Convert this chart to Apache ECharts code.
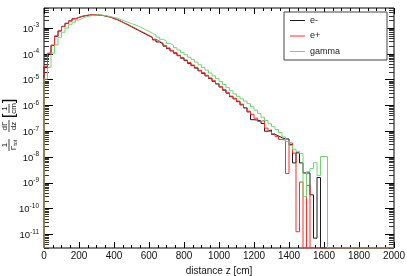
<!DOCTYPE html>
<html><head><meta charset="utf-8">
<script src="https://cdn.jsdelivr.net/npm/echarts@6/dist/echarts.min.js"></script>
<style>html,body{margin:0;padding:0;background:#fff}#c{width:407px;height:276px}</style>
</head><body><div id="c"></div>
<script>
// ---- data (histogram, 20 cm bins from 0 to 2000 cm) ----
const BIN_WIDTH = 20;
const seriesNames = ['e-', 'e+', 'gamma'];
const eMinus = [
 3.1e-5,1.0e-4,2.1e-4,4.8e-4,7.7e-4,1.15e-3,1.52e-3,1.9e-3,2.3e-3,2.6e-3,
 2.85e-3,3.05e-3,3.2e-3,3.25e-3,3.25e-3,3.15e-3,3.05e-3,2.85e-3,2.65e-3,2.35e-3,
 2.1e-3,1.82e-3,1.55e-3,1.34e-3,1.13e-3,9.6e-4,8.2e-4,6.9e-4,5.9e-4,5.0e-4,
 4.3e-4,3.5e-4,2.9e-4,2.45e-4,2.0e-4,1.6e-4,1.3e-4,1.06e-4,8.5e-5,6.8e-5,
 5.5e-5,4.3e-5,3.5e-5,2.8e-5,2.2e-5,1.75e-5,1.4e-5,1.1e-5,8.6e-6,6.8e-6,
 5.2e-6,3.9e-6,3.0e-6,2.2e-6,1.8e-6,1.4e-6,1.05e-6,8.0e-7,5.6e-7,2.8e-7,
 2.7e-7,2.5e-7,2.0e-7,1.0e-7,1.12e-7,7.6e-8,6.6e-8,5.6e-8,5.0e-8,5.0e-8,
 3.0e-8,5.9e-9,1.45e-8,5.9e-9,2.4e-9,2.4e-9,3.4e-10,7.1e-12,1.6e-9,0,
 0,0,0,0,0,0,0,0,0,0, 0,0,0,0,0,0,0,0,0,0
];
const ePlus = [
 3.3e-5,1.07e-4,2.2e-4,5.0e-4,7.9e-4,1.17e-3,1.55e-3,1.9e-3,2.3e-3,2.6e-3,
 2.9e-3,3.1e-3,3.2e-3,3.3e-3,3.3e-3,3.2e-3,3.1e-3,2.9e-3,2.7e-3,2.4e-3,
 2.15e-3,1.86e-3,1.58e-3,1.38e-3,1.17e-3,1.0e-3,8.5e-4,7.2e-4,6.2e-4,5.2e-4,
 4.5e-4,3.7e-4,3.1e-4,2.6e-4,2.1e-4,1.7e-4,1.38e-4,1.12e-4,8.9e-5,7.2e-5,
 5.8e-5,4.6e-5,3.7e-5,3.0e-5,2.3e-5,1.86e-5,1.48e-5,1.17e-5,9.1e-6,7.1e-6,
 5.4e-6,4.1e-6,3.1e-6,2.3e-6,1.9e-6,1.48e-6,1.12e-6,8.3e-7,6.0e-7,4.5e-7,
 3.2e-7,2.4e-7,2.6e-7,1.32e-7,1.0e-7,7.9e-8,6.3e-8,4.8e-8,4.5e-8,2.3e-9,
 3.5e-8,1.41e-8,1.26e-11,1.07e-9,0,7.9e-10,0,0,0,0,
 0,0,0,0,0,0,0,0,0,0, 0,0,0,0,0,0,0,0,0,0
];
const gamma = [
 1.05e-5,3.0e-5,1.07e-4,2.2e-4,4.4e-4,6.9e-4,1.0e-3,1.35e-3,1.7e-3,2.05e-3,
 2.4e-3,2.7e-3,2.95e-3,3.1e-3,3.25e-3,3.25e-3,3.15e-3,3.0e-3,2.8e-3,2.6e-3,
 2.4e-3,2.15e-3,1.9e-3,1.7e-3,1.5e-3,1.35e-3,1.17e-3,1.02e-3,8.7e-4,7.4e-4,
 6.3e-4,5.4e-4,4.5e-4,3.7e-4,3.1e-4,2.55e-4,2.15e-4,1.74e-4,1.41e-4,1.15e-4,
 9.3e-5,7.4e-5,6.0e-5,4.8e-5,3.8e-5,3.0e-5,2.35e-5,1.8e-5,1.4e-5,1.1e-5,
 8.5e-6,6.5e-6,4.9e-6,3.7e-6,2.8e-6,2.25e-6,1.8e-6,1.48e-6,1.17e-6,8.9e-7,
 6.6e-7,4.9e-7,3.5e-7,2.6e-7,1.95e-7,1.5e-7,1.17e-7,8.9e-8,6.0e-8,4.0e-8,
 2.8e-8,2.0e-8,1.66e-8,1.38e-8,2.9e-10,2.7e-9,3.6e-9,6.0e-9,1.9e-9,1.05e-8,
 1.05e-8,0,0,0,0,0,0,0,0,0, 0,0,0,0,0,0,0,0,0,0
];
const xTickValues = [0,200,400,600,800,1000,1200,1400,1600,1800,2000];
const yDecades = [-11,-10,-9,-8,-7,-6,-5,-4,-3];

// ---- axis range (log10 space) ----
const Y_MIN = -11.53, Y_MAX = -2.22;
const lg = v => (v > 0 ? Math.log10(v) : Y_MIN);

function steps(vals) {
  const pts = [[0, Y_MIN]];
  vals.forEach((v, i) => pts.push([i * BIN_WIDTH, lg(v)]));
  pts.push([vals.length * BIN_WIDTH, lg(vals[vals.length - 1])]);
  return pts;
}
const minorY = [];
for (let e = -12; e <= -3; e++) for (let k = 2; k <= 9; k++) {
  const L = Math.log10(k) + e;
  if (L > Y_MIN && L < Y_MAX) minorY.push(L);
}

const FONT = 'Liberation Sans';
const chart = echarts.init(document.getElementById('c'));
const yBase = { type: 'value', min: Y_MIN, max: Y_MAX, splitLine: { show: false },
  axisLine: { show: false } };
const xBase = { type: 'value', min: 0, max: 2000, interval: 200, splitLine: { show: false },
  axisLine: { show: false },
  axisTick: { inside: true, length: 6, lineStyle: { color: '#000' } },
  minorTick: { show: true, splitNumber: 4, length: 3, lineStyle: { color: '#000' } } };

const colors = ['#1a1a1a', '#ff2a2a', '#74d474'];
const allData = [eMinus, ePlus, gamma];
const LINE_ICON = 'path://M0,0L30,0L30,2L0,2Z';

chart.setOption({
  animation: false,
  backgroundColor: '#fff',
  grid: { left: 44, right: 13, top: 8, bottom: 28, show: true, borderColor: '#000',
    borderWidth: 1, backgroundColor: 'transparent', outerBoundsMode: 'none' },
  legend: {
    orient: 'vertical', left: 284, top: 12, padding: [3.5, 7, 3.5, 6], itemGap: 5.5,
    itemWidth: 15, itemHeight: 1.2, borderColor: '#444', borderWidth: 1, backgroundColor: '#fff',
    textStyle: { fontFamily: FONT, fontSize: 9, color: '#222', width: 70, lineHeight: 10 },
    data: seriesNames.map(n => ({ name: n, icon: LINE_ICON }))
  },
  xAxis: [
    Object.assign({}, xBase, { position: 'bottom',
      axisLabel: { fontFamily: FONT, fontSize: 10, color: '#111', margin: 3,
        customValues: xTickValues, formatter: v => String(v) },
      name: 'distance z [cm]', nameLocation: 'middle', nameGap: 12,
      nameTextStyle: { fontFamily: FONT, fontSize: 10, color: '#111' } }),
    Object.assign({}, xBase, { position: 'top', axisLabel: { show: false } })
  ],
  yAxis: [
    Object.assign({}, yBase, { position: 'left',
      axisTick: { inside: true, length: 9, customValues: yDecades, lineStyle: { color: '#000' } },
      axisLabel: { customValues: yDecades, margin: 5,
        formatter: v => '{b|10}{s|' + Math.round(v) + '}',
        rich: {
          b: { fontFamily: FONT, fontSize: 9.5, color: '#111', lineHeight: 12, verticalAlign: 'bottom' },
          s: { fontFamily: FONT, fontSize: 6.5, color: '#111', lineHeight: 12, verticalAlign: 'top' }
        } } }),
    Object.assign({}, yBase, { position: 'left', axisLabel: { show: false },
      axisTick: { inside: true, length: 5, customValues: minorY, lineStyle: { color: '#333' } } }),
    Object.assign({}, yBase, { position: 'right', axisLabel: { show: false },
      axisTick: { inside: true, length: 9, customValues: yDecades, lineStyle: { color: '#000' } } }),
    Object.assign({}, yBase, { position: 'right', axisLabel: { show: false },
      axisTick: { inside: true, length: 5, customValues: minorY, lineStyle: { color: '#333' } } })
  ],
  series: allData.map((vals, i) => ({
    name: seriesNames[i], type: 'line', step: 'end', symbol: 'none', showSymbol: false, clip: true,
    xAxisIndex: 0, yAxisIndex: 0, data: steps(vals),
    itemStyle: { color: colors[i] },
    lineStyle: { color: colors[i], width: 1 }
  })),
  graphic: [{
    type: 'group', x: 9, y: 126, rotation: Math.PI / 2,
    children: [
      { type: 'text', x: -19, y: -0.5, style: { text: '1', fontFamily: FONT, fontSize: 8, fill: '#111', align: 'center', verticalAlign: 'bottom' } },
      { type: 'line', shape: { x1: -25, y1: 0, x2: -13, y2: 0 }, style: { stroke: '#111', lineWidth: 0.8 } },
      { type: 'text', x: -19, y: 0.5, style: { text: '{g|Γ}{t|tot}', fontFamily: FONT, fontSize: 8, fill: '#111', align: 'center', verticalAlign: 'top',
        rich: { g: { fontFamily: FONT, fontSize: 8, fill: '#111', lineHeight: 9, verticalAlign: 'top' }, t: { fontFamily: FONT, fontSize: 5.5, fill: '#111', lineHeight: 9, verticalAlign: 'bottom' } } } },
      { type: 'text', x: 0, y: -0.5, style: { text: 'dΓ', fontFamily: FONT, fontSize: 8, fill: '#111', align: 'center', verticalAlign: 'bottom' } },
      { type: 'line', shape: { x1: -6, y1: 0, x2: 6, y2: 0 }, style: { stroke: '#111', lineWidth: 0.8 } },
      { type: 'text', x: 0, y: 0.5, style: { text: 'dz', fontFamily: FONT, fontSize: 8, fill: '#111', align: 'center', verticalAlign: 'top' } },
      { type: 'text', x: 10, y: 0.5, style: { text: '[', fontFamily: FONT, fontSize: 17, fill: '#111', align: 'center', verticalAlign: 'middle' } },
      { type: 'text', x: 17.5, y: -0.5, style: { text: '1', fontFamily: FONT, fontSize: 8, fill: '#111', align: 'center', verticalAlign: 'bottom' } },
      { type: 'line', shape: { x1: 13, y1: 0, x2: 22, y2: 0 }, style: { stroke: '#111', lineWidth: 0.8 } },
      { type: 'text', x: 17.5, y: 0.5, style: { text: 'cm', fontFamily: FONT, fontSize: 8, fill: '#111', align: 'center', verticalAlign: 'top' } },
      { type: 'text', x: 25, y: 0.5, style: { text: ']', fontFamily: FONT, fontSize: 17, fill: '#111', align: 'center', verticalAlign: 'middle' } }
    ]
  }]
});
</script>
</body></html>
